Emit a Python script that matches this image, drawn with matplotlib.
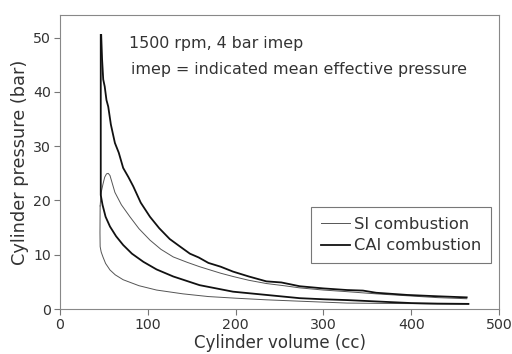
import numpy as np
import matplotlib
matplotlib.use('Agg')
import matplotlib.pyplot as plt

# P-V diagram, SI vs CAI combustion (1500 rpm, 4 bar imep)

# CAI compression stroke (BDC -> TDC, then combustion rise)
cai_comp_v = [465, 430, 400, 360, 327, 300, 273, 235, 197, 159, 129, 110, 95, 82, 72, 64, 57, 52, 48.5, 46.5, 46.5]
cai_comp_p = [0.95, 1.0, 1.1, 1.4, 1.65, 1.8, 2.0, 2.6, 3.2, 4.4, 6.0, 7.3, 8.7, 10.2, 11.8, 13.4, 15.2, 17.0, 19.2, 21.0, 50.5]
# CAI expansion stroke
cai_exp_v = [47.0, 48.0, 49.3, 51, 53, 55, 58, 62.6, 67, 72, 78, 83.5, 92, 102.5, 113, 125, 136, 148, 158, 169, 183, 197, 215, 235, 252, 273, 300, 327, 345, 360, 395, 430, 463]
cai_exp_p = [50.5, 46.0, 42.3, 41.0, 38.5, 37.3, 34.0, 30.6, 28.8, 26.0, 24.3, 22.6, 19.6, 17.0, 14.9, 12.9, 11.6, 10.2, 9.5, 8.5, 7.8, 6.9, 6.0, 5.1, 4.9, 4.2, 3.8, 3.5, 3.4, 3.0, 2.6, 2.35, 2.15]

# SI compression stroke
si_comp_v = [465, 420, 400, 360, 327, 280, 235, 200, 169, 140, 110, 90, 72, 63, 57, 52, 49, 47, 45.8, 45.6, 45.8]
si_comp_p = [0.9, 0.95, 1.0, 1.05, 1.1, 1.4, 1.7, 2.0, 2.3, 2.8, 3.5, 4.3, 5.4, 6.3, 7.2, 8.4, 9.6, 10.5, 11.5, 14.0, 19.0]
# SI expansion stroke
si_exp_v = [45.8, 47, 49, 51, 53, 55, 57, 59, 62.6, 70, 79.7, 90, 102.5, 115, 129, 145, 159, 169, 183, 197, 215, 235, 255, 273, 300, 327, 360, 395, 430, 463]
si_exp_p = [19.0, 21.5, 23.0, 24.3, 24.9, 25.0, 24.6, 23.5, 21.5, 19.2, 17.0, 14.8, 12.7, 11.0, 9.6, 8.6, 7.8, 7.3, 6.6, 6.0, 5.3, 4.7, 4.3, 3.9, 3.5, 3.2, 2.8, 2.45, 2.1, 1.9]

plt.rcParams['font.family'] = ['DejaVu Sans']
plt.rcParams['text.color'] = '#333333'
plt.rcParams['xtick.color'] = '#777777'
plt.rcParams['ytick.color'] = '#777777'
plt.rcParams['xtick.labelcolor'] = '#333333'
plt.rcParams['ytick.labelcolor'] = '#333333'
plt.rcParams['axes.labelcolor'] = '#333333'

fig = plt.figure(figsize=(5.12, 3.54), dpi=100)
ax = fig.add_axes([0.117, 0.127, 0.858, 0.831])

thin = dict(color='#555555', lw=0.7)
thick = dict(color='#111111', lw=1.3)

ax.plot(si_comp_v, si_comp_p, **thin)
ax.plot(si_exp_v, si_exp_p, label='SI combustion', **thin)
ax.plot(cai_comp_v, cai_comp_p, **thick)
ax.plot(cai_exp_v, cai_exp_p, label='CAI combustion', **thick)

ax.set_xlim(0, 500)
ax.set_ylim(0, 54.2)
ax.set_xticks([0, 100, 200, 300, 400, 500])
ax.set_yticks([0, 10, 20, 30, 40, 50])
ax.tick_params(direction='out', length=4, width=0.8, pad=2.5, labelsize=10.2)
for s in ax.spines.values():
    s.set_color('#888888')
    s.set_linewidth(0.8)

ax.set_xlabel('Cylinder volume (cc)', fontsize=12, labelpad=1.5)
ax.set_ylabel('Cylinder pressure (bar)', fontsize=12.8, labelpad=3)

ax.text(78.6, 48.9, '1500 rpm, 4 bar imep', va='center', ha='left', fontsize=11.4)
ax.text(80.5, 44.1, 'imep = indicated mean effective pressure', va='center', ha='left', fontsize=11.4)

leg = ax.legend(loc='lower right', bbox_to_anchor=(0.982, 0.156), borderaxespad=0,
                fancybox=False, framealpha=1, edgecolor='#777777', fontsize=11.7,
                handlelength=1.8, handletextpad=0.25, borderpad=0.6, labelspacing=0.4)
leg.get_frame().set_linewidth(0.8)

fig.savefig('out.png', dpi=100)
